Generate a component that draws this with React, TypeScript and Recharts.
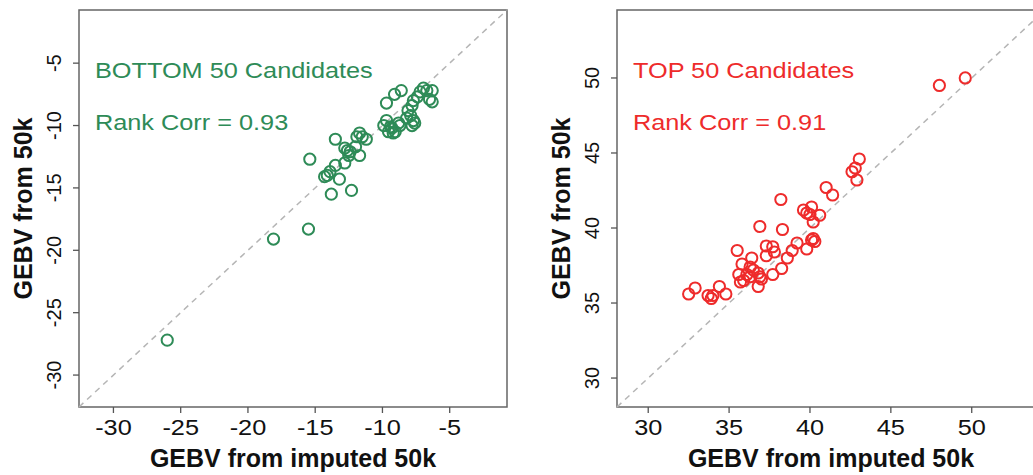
import { ScatterChart, Scatter, XAxis, YAxis, ReferenceLine, ReferenceArea, Customized } from "recharts";

const FONT = "'Liberation Sans', Arial, Helvetica, sans-serif";
const GREEN = "#2e8b57";
const RED = "#ee2b2b";

// BOTTOM 50 candidates
const bottomX = [
  -26.0, -18.1, -15.5, -15.4, -13.8, -12.3, -13.2, -14.3, -14.1, -13.9,
  -13.5, -12.8, -13.5, -12.8, -12.4, -12.0, -11.7, -11.7, -11.5, -11.2,
  -11.9, -12.6, -12.5, -9.7, -9.1, -8.6, -9.7, -9.9, -9.4, -9.55,
  -9.2, -9.3, -8.8, -8.1, -7.8, -7.7, -7.4, -7.2, -6.95, -6.7,
  -6.3, -6.3, -6.5, -7.9, -7.7, -8.2, -7.8, -7.6, -8.7, -9.05,
];
const bottomY = [
  -27.2, -19.1, -18.3, -12.7, -15.5, -15.2, -14.3, -14.1, -14.0, -13.7,
  -13.2, -13.0, -11.1, -11.8, -12.1, -11.7, -12.4, -10.6, -10.9, -11.1,
  -10.9, -12.0, -12.4, -8.2, -7.5, -7.2, -9.6, -10.0, -10.1, -10.5,
  -10.6, -10.2, -9.8, -8.8, -8.4, -8.0, -7.7, -7.3, -7.0, -7.2,
  -7.2, -8.1, -7.9, -9.2, -9.6, -9.4, -10.0, -9.8, -10.0, -10.5,
];

// TOP 50 candidates
const topX = [
  49.6, 48.0, 43.05, 42.8, 42.6, 42.9, 41.0, 41.4, 38.2, 36.9,
  38.3, 39.6, 40.1, 40.0, 40.6, 40.2, 39.8, 40.2, 40.3, 40.1,
  39.8, 39.2, 38.9, 38.6, 38.25, 37.7, 37.3, 37.7, 37.8, 37.3,
  35.5, 35.8, 36.4, 36.3, 36.5, 35.6, 35.7, 35.9, 36.8, 36.9,
  37.0, 36.8, 36.1, 36.3, 34.4, 34.8, 33.7, 33.9, 34.0, 32.5, 32.9,
];
const topY = [
  50.0, 49.5, 44.6, 44.0, 43.75, 43.2, 42.7, 42.2, 41.9, 40.1,
  39.9, 41.2, 41.4, 40.9, 40.85, 40.4, 41.0, 39.3, 39.1, 39.2,
  38.6, 39.0, 38.5, 38.0, 37.3, 36.9, 38.8, 38.75, 38.4, 38.15,
  38.5, 37.6, 38.0, 37.4, 37.2, 36.9, 36.4, 36.5, 37.0, 36.75,
  36.6, 36.1, 36.9, 36.75, 36.1, 35.6, 35.5, 35.3, 35.5, 35.6, 36.0,
];

const bottomTicks = [-30, -25, -20, -15, -10, -5];
const topTicks = [30, 35, 40, 45, 50];
const bottomLim: [number, number] = [-32.56, -0.74];
const topLim: [number, number] = [28.07, 54.53];

const PLOT_TOP = 10;
const PLOT_BOTTOM = 407;
const PLOT_W = 428;
const CHART_H = 475;
const WIDE = 1.15; // the source text is a bit wider than the font

function Panel({
  xs,
  ys,
  color,
  lim,
  ticks,
  title,
  corr,
  plotLeft,
  width,
}: {
  xs: number[];
  ys: number[];
  color: string;
  lim: [number, number];
  ticks: number[];
  title: string;
  corr: string;
  plotLeft: number;
  width: number;
}) {
  const data = xs.map((x, i) => ({ x, y: ys[i] }));
  const midX = plotLeft + PLOT_W / 2;
  const midY = (PLOT_TOP + PLOT_BOTTOM) / 2;

  return (
    <ScatterChart
      width={width}
      height={CHART_H}
      margin={{ top: PLOT_TOP, right: width - plotLeft - PLOT_W, bottom: CHART_H - PLOT_BOTTOM - 40, left: plotLeft - 60 }}
    >
      <XAxis
        type="number"
        dataKey="x"
        domain={lim}
        ticks={ticks}
        allowDataOverflow
        height={40}
        axisLine={false}
        tickSize={6}
        tickLine={{ stroke: "#555", strokeWidth: 1.3 }}
        tick={(p: any) => (
          <text
            x={0}
            y={0}
            transform={`translate(${p.x}, 435) scale(${WIDE}, 1)`}
            textAnchor="middle"
            fontSize={22}
            fontFamily={FONT}
            fill="#111"
          >
            {p.payload.value}
          </text>
        )}
      />
      <YAxis
        type="number"
        dataKey="y"
        domain={lim}
        ticks={ticks}
        allowDataOverflow
        width={60}
        axisLine={false}
        tickSize={6}
        tickLine={{ stroke: "#555", strokeWidth: 1.3 }}
        tick={(p: any) => {
          const bx = plotLeft - 18;
          return (
            <text
              x={bx}
              y={p.y}
              transform={`rotate(-90, ${bx}, ${p.y})`}
              textAnchor="middle"
              fontSize={20}
              fontFamily={FONT}
              fill="#111"
            >
              {p.payload.value}
            </text>
          );
        }}
      />
      <ReferenceArea
        x1={lim[0]}
        x2={lim[1]}
        y1={lim[0]}
        y2={lim[1]}
        fill="none"
        fillOpacity={0}
        stroke="#666"
        strokeWidth={1.5}
      />
      <ReferenceLine
        segment={[
          { x: lim[0], y: lim[0] },
          { x: lim[1], y: lim[1] },
        ]}
        stroke="#b5b5b5"
        strokeWidth={1.5}
        strokeDasharray="6 5"
      />
      <Scatter
        data={data}
        isAnimationActive={false}
        shape={(p: any) => <circle cx={p.cx} cy={p.cy} r={5.6} fill="none" stroke={color} strokeWidth={2} />}
      />
      <Customized
        component={() => (
          <g fontFamily={FONT}>
            <text x={0} y={0} transform={`translate(${plotLeft + 16}, 78) scale(${WIDE}, 1)`} fontSize={22} fill={color}>
              {title}
            </text>
            <text x={0} y={0} transform={`translate(${plotLeft + 16}, 130) scale(${WIDE}, 1)`} fontSize={22} fill={color}>
              {corr}
            </text>
            <text x={midX} y={467} textAnchor="middle" fontSize={25} fontWeight="bold" fill="#111">
              GEBV from imputed 50k
            </text>
            <text
              x={plotLeft - 47}
              y={midY}
              transform={`rotate(-90, ${plotLeft - 47}, ${midY})`}
              textAnchor="middle"
              fontSize={25}
              fontWeight="bold"
              fill="#111"
            >
              GEBV from 50k
            </text>
          </g>
        )}
      />
    </ScatterChart>
  );
}

export default function App() {
  return (
    <div
      style={{
        position: "absolute",
        left: 0,
        top: 0,
        width: 1033,
        height: 475,
        overflow: "hidden",
        background: "#fff",
      }}
    >
      <div style={{ position: "absolute", left: 0, top: 0 }}>
        <Panel
          xs={bottomX}
          ys={bottomY}
          color={GREEN}
          lim={bottomLim}
          ticks={bottomTicks}
          title="BOTTOM 50 Candidates"
          corr="Rank Corr = 0.93"
          plotLeft={79}
          width={520}
        />
      </div>
      <div style={{ position: "absolute", left: 520, top: 0 }}>
        <Panel
          xs={topX}
          ys={topY}
          color={RED}
          lim={topLim}
          ticks={topTicks}
          title="TOP 50 Candidates"
          corr="Rank Corr = 0.91"
          plotLeft={97}
          width={540}
        />
      </div>
    </div>
  );
}
